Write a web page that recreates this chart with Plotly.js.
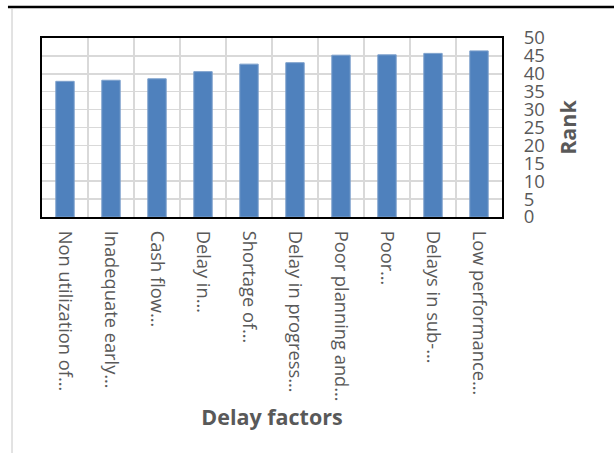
<!DOCTYPE html>
<html>
<head>
<meta charset="utf-8">
<script src="https://cdn.plot.ly/plotly-3.0.1.min.js"></script>
<style>
  html, body { margin: 0; padding: 0; background: #ffffff; }
  #chart { width: 614px; height: 453px; }
</style>
</head>
<body>
<div id="chart"></div>
<script>
// Delay factors and their rank scores
const factors = [
  'Non utilization of…',
  'Inadequate early…',
  'Cash flow…',
  'Delay in…',
  'Shortage of…',
  'Delay in progress…',
  'Poor planning and…',
  'Poor…',
  'Delays in sub-…',
  'Low performance…'
];
const rank = [37.9, 38.2, 38.6, 40.6, 42.7, 43.1, 45.2, 45.3, 45.7, 46.4];
const rankTicks = [0, 5, 10, 15, 20, 25, 30, 35, 40, 45, 50];

const font = '"Open Sans", "Noto Sans", sans-serif';
const textGrey = '#595959';

const trace = {
  type: 'bar',
  x: factors,
  y: rank,
  marker: { color: '#4f81bd', line: { color: '#7da0cc', width: 1 } },
  hoverinfo: 'x+y'
};

const layout = {
  width: 614,
  height: 453,
  margin: { l: 42, r: 112, t: 38, b: 236 },
  paper_bgcolor: '#ffffff',
  plot_bgcolor: '#ffffff',
  bargap: 0.6,
  showlegend: false,
  font: { family: font, color: textGrey },
  xaxis: {
    type: 'category',
    tickson: 'boundaries',
    showgrid: true,
    gridcolor: '#d9d9d9',
    gridwidth: 1.5,
    ticks: '',
    tickangle: 90,
    tickfont: { family: font, size: 18.3, color: textGrey },
    ticklabelstandoff: 8,
    showline: true,
    linecolor: '#000000',
    linewidth: 2,
    mirror: true,
    automargin: false,
    title: {
      text: '<b>Delay factors</b>',
      font: { family: font, size: 21.5, color: textGrey },
      standoff: 0
    }
  },
  yaxis: {
    side: 'right',
    range: [0, 50],
    tickvals: rankTicks,
    ticktext: rankTicks.map(String),
    showgrid: true,
    gridcolor: '#d9d9d9',
    gridwidth: 1.5,
    zeroline: false,
    ticks: '',
    tickfont: { family: font, size: 18.5, color: textGrey },
    ticklabelstandoff: 16,
    showline: true,
    linecolor: '#000000',
    linewidth: 2,
    mirror: true,
    automargin: false,
    title: {
      text: '<b>Rank</b>',
      font: { family: font, size: 21.5, color: textGrey },
      standoff: 17
    }
  },
  shapes: [
    // heavy rule across the top of the figure
    { type: 'line', xref: 'paper', yref: 'paper',
      x0: -0.074, x1: 1.25, y0: 1.173, y1: 1.173,
      line: { color: '#000000', width: 2.5 } },
    // chart-area frame edge on the left
    { type: 'line', xref: 'paper', yref: 'paper',
      x0: -0.0652, x1: -0.0652, y0: 1.162, y1: -1.4,
      line: { color: '#d9d9d9', width: 1.5 } }
  ]
};

Plotly.newPlot('chart', [trace], layout, { staticPlot: true, displayModeBar: false });
</script>
</body>
</html>
